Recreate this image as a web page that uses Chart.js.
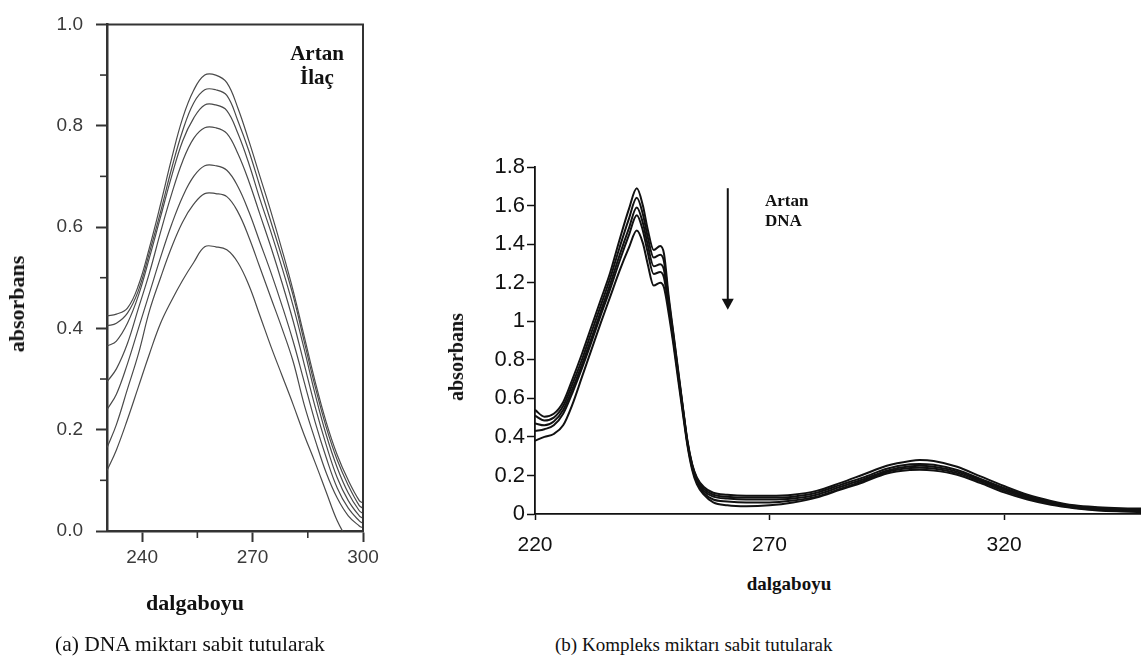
<!DOCTYPE html>
<html>
<head>
<meta charset="utf-8">
<script src="https://cdn.jsdelivr.net/npm/chart.js@4.4.1/dist/chart.umd.min.js"></script>
<style>
  body { margin: 0; background: #fff; width: 1141px; height: 668px; position: relative; overflow: hidden; }
  .box { position: absolute; }
  .lbl { position: absolute; font-family: "Liberation Serif", "Times New Roman", serif; color: #111; white-space: nowrap; line-height: 1; }
  .bold { font-weight: bold; }
  .rot { transform: translate(-50%, -50%) rotate(-90deg); }
  .ctr { transform: translate(-50%, -50%); }
</style>
</head>
<body>
<div class="box" style="left:0;top:0;width:400px;height:613px"><canvas id="chartA"></canvas></div>
<div class="box" style="left:420px;top:140px;width:721px;height:420px"><canvas id="chartB"></canvas></div>

<div class="lbl bold rot" style="left:17px;top:304px;font-size:22px">absorbans</div>
<div class="lbl bold ctr" style="left:195px;top:603px;font-size:22px">dalgaboyu</div>
<div class="lbl bold" style="left:286px;top:41px;width:62px;text-align:center;font-size:21px;line-height:24px">Artan<br>İlaç</div>
<div class="lbl" style="left:55px;top:634px;font-size:21.5px">(a) DNA miktarı sabit tutularak</div>

<div class="lbl bold rot" style="left:456px;top:357px;font-size:20px">absorbans</div>
<div class="lbl bold ctr" style="left:789px;top:583px;font-size:19px">dalgaboyu</div>
<div class="lbl bold" style="left:765px;top:191px;font-size:17px;line-height:20px">Artan<br>DNA</div>
<div class="lbl" style="left:555px;top:635px;font-size:19px">(b) Kompleks miktarı sabit tutularak</div>

<script>
// (a) DNA sabit, artan ilac
const wavelengthA = [230.5, 233, 236, 239, 242, 245, 248, 251, 254, 257, 260, 263, 266, 269, 272, 275, 278, 281, 284, 287, 290, 293, 296, 299, 300];
const absA1 = [.425, .428, .44, .485, .56, .645, .735, .815, .87, .90, .90, .885, .835, .77, .70, .63, .555, .475, .385, .295, .215, .15, .10, .06, .055];
const absA2 = [.405, .41, .43, .475, .55, .63, .715, .79, .845, .871, .871, .86, .81, .75, .68, .61, .54, .465, .375, .285, .205, .14, .09, .05, .045];
const absA3 = [.365, .375, .41, .465, .54, .62, .70, .77, .815, .841, .841, .83, .785, .725, .655, .59, .52, .445, .36, .27, .19, .125, .075, .04, .035];
const absA4 = [.295, .32, .37, .44, .51, .59, .665, .73, .775, .796, .796, .785, .745, .69, .625, .56, .49, .415, .33, .245, .17, .105, .06, .03, .025];
const absA5 = [.24, .27, .33, .40, .47, .54, .605, .66, .70, .721, .721, .712, .68, .63, .57, .51, .445, .375, .295, .215, .145, .085, .045, .02, .015];
const absA6 = [.165, .21, .28, .35, .435, .50, .56, .61, .645, .666, .666, .66, .63, .58, .52, .46, .40, .335, .25, .18, .115, .065, .03, .01, .006];
const absA7 = [.12, .16, .22, .285, .35, .41, .455, .495, .53, .561, .561, .555, .53, .485, .425, .364, .307, .25, .19, .135, .077, .02, -.02, -.06, -.07];
const xTicksA = [240, 270, 300];
const xMinorA = [255, 285];
const yTicksA = [0, 0.2, 0.4, 0.6, 0.8, 1.0];
const yMinorA = [0.1, 0.3, 0.5, 0.7, 0.9];

// (b) kompleks sabit, artan DNA
const wavelengthB = [220, 222, 224, 226, 228, 230, 232, 234, 236, 238, 240, 241.7, 243, 244, 245.3, 246.7, 247.5, 248.5, 249.5, 250.5, 251.5, 252.5, 253.5, 254.5, 256, 258, 261, 265, 270, 275, 280, 285, 290, 295, 300, 302, 305, 310, 315, 320, 325, 330, 335, 340, 345, 350];
const absB1 = [.54, .505, .52, .58, .70, .83, .97, 1.11, 1.25, 1.42, 1.58, 1.69, 1.60, 1.48, 1.37, 1.39, 1.35, 1.13, .94, .75, .56, .38, .26, .19, .14, .11, .10, .095, .095, .10, .12, .16, .205, .25, .275, .28, .275, .245, .195, .145, .10, .068, .045, .035, .03, .028];
const absB2 = [.51, .485, .50, .56, .675, .80, .94, 1.08, 1.22, 1.38, 1.53, 1.64, 1.555, 1.44, 1.33, 1.345, 1.31, 1.11, .93, .74, .555, .375, .255, .185, .13, .10, .09, .085, .085, .09, .11, .15, .19, .235, .258, .26, .255, .228, .182, .135, .093, .062, .04, .03, .025, .022];
const absB3 = [.47, .46, .48, .54, .65, .775, .91, 1.05, 1.19, 1.34, 1.48, 1.59, 1.51, 1.40, 1.285, 1.295, 1.265, 1.09, .915, .73, .55, .37, .25, .175, .12, .09, .08, .075, .075, .08, .10, .14, .18, .225, .248, .25, .245, .22, .175, .128, .088, .058, .037, .027, .022, .019];
const absB4 = [.43, .44, .46, .52, .63, .755, .89, 1.03, 1.165, 1.31, 1.445, 1.55, 1.47, 1.36, 1.245, 1.255, 1.225, 1.07, .90, .72, .54, .365, .24, .165, .11, .075, .065, .06, .06, .07, .09, .13, .172, .218, .238, .24, .236, .212, .168, .12, .082, .053, .033, .022, .018, .015];
const absB5 = [.38, .40, .415, .46, .57, .71, .85, .99, 1.125, 1.26, 1.38, 1.47, 1.405, 1.30, 1.185, 1.20, 1.175, 1.04, .88, .70, .525, .355, .23, .155, .10, .06, .045, .04, .045, .06, .085, .125, .165, .21, .228, .23, .226, .204, .16, .112, .075, .048, .03, .018, .013, .01];
const xTicksB = [220, 270, 320];
const yTicksB = [0, 0.2, 0.4, 0.6, 0.8, 1, 1.2, 1.4, 1.6, 1.8];
// arrow: wavelength, from / to absorbance
const arrowB = { x: 261.1, from: 1.69, to: 1.06 };

const toPoints = (xs, ys) => xs.map((x, i) => ({ x: x, y: ys[i] }));

const boxAndMinor = {
  id: 'boxAndMinor',
  afterDraw(chart) {
    const { ctx, chartArea: a, scales: { x, y } } = chart;
    ctx.save();
    ctx.strokeStyle = '#333';
    ctx.lineWidth = 2;
    ctx.beginPath();
    ctx.moveTo(a.left, a.top);
    ctx.lineTo(a.right, a.top);
    ctx.lineTo(a.right, a.bottom);
    ctx.stroke();
    ctx.lineWidth = 1.6;
    yMinorA.forEach(v => {
      const py = y.getPixelForValue(v);
      ctx.beginPath(); ctx.moveTo(a.left - 7, py); ctx.lineTo(a.left, py); ctx.stroke();
    });
    xMinorA.forEach(v => {
      const px = x.getPixelForValue(v);
      ctx.beginPath(); ctx.moveTo(px, a.bottom); ctx.lineTo(px, a.bottom + 7); ctx.stroke();
    });
    ctx.restore();
  }
};

const arrowPlugin = {
  id: 'arrowPlugin',
  afterDraw(chart) {
    const { ctx, scales: { x, y } } = chart;
    const px = x.getPixelForValue(arrowB.x);
    const y1 = y.getPixelForValue(arrowB.from);
    const y2 = y.getPixelForValue(arrowB.to);
    ctx.save();
    ctx.strokeStyle = '#111';
    ctx.fillStyle = '#111';
    ctx.lineWidth = 2;
    ctx.beginPath(); ctx.moveTo(px, y1); ctx.lineTo(px, y2 - 8); ctx.stroke();
    ctx.beginPath();
    ctx.moveTo(px - 6, y2 - 11); ctx.lineTo(px + 6, y2 - 11); ctx.lineTo(px, y2); ctx.closePath();
    ctx.fill();
    ctx.restore();
  }
};

new Chart(document.getElementById('chartA'), {
  type: 'line',
  data: {
    datasets: [absA1, absA2, absA3, absA4, absA5, absA6, absA7].map(s => ({
      data: toPoints(wavelengthA, s),
      borderColor: '#4a4a4a',
      borderWidth: 1.2,
      pointRadius: 0,
      tension: 0.4,
      fill: false
    }))
  },
  options: {
    responsive: true,
    maintainAspectRatio: false,
    animation: false,
    layout: { padding: { left: 0, top: 14, right: 37, bottom: 0 } },
    plugins: { legend: { display: false }, tooltip: { enabled: false } },
    scales: {
      x: {
        type: 'linear', min: 230.45, max: 300,
        afterBuildTicks: s => { s.ticks = xTicksA.map(v => ({ value: v })); },
        afterFit: s => { s.height = 82; },
        grid: { drawOnChartArea: false, tickLength: 11, tickColor: '#333', tickWidth: 2 },
        border: { color: '#333', width: 2.5 },
        ticks: { color: '#3a3a3a', padding: 4, font: { family: 'Liberation Sans', size: 19 } }
      },
      y: {
        type: 'linear', min: 0, max: 1,
        afterBuildTicks: s => { s.ticks = yTicksA.map(v => ({ value: v })); },
        afterFit: s => { s.width = 107; },
        grid: { drawOnChartArea: false, tickLength: 11, tickColor: '#333', tickWidth: 2 },
        border: { color: '#333', width: 2.5 },
        ticks: { color: '#3a3a3a', padding: 13, font: { family: 'Liberation Sans', size: 19 }, callback: v => v.toFixed(1) }
      }
    }
  },
  plugins: [boxAndMinor]
});

new Chart(document.getElementById('chartB'), {
  type: 'line',
  data: {
    datasets: [absB1, absB2, absB3, absB4, absB5].map(s => ({
      data: toPoints(wavelengthB, s),
      borderColor: '#111',
      borderWidth: 2,
      pointRadius: 0,
      cubicInterpolationMode: 'monotone',
      fill: false
    }))
  },
  options: {
    responsive: true,
    maintainAspectRatio: false,
    animation: false,
    layout: { padding: { left: 0, top: 27, right: 0, bottom: 0 } },
    plugins: { legend: { display: false }, tooltip: { enabled: false } },
    scales: {
      x: {
        type: 'linear', min: 220, max: 349.2,
        afterBuildTicks: s => { s.ticks = xTicksB.map(v => ({ value: v })); },
        afterFit: s => { s.height = 46; },
        grid: { drawOnChartArea: false, tickLength: 6, tickColor: '#111', tickWidth: 1.5 },
        border: { color: '#111', width: 1.8 },
        ticks: { color: '#111', padding: 13, font: { family: 'Liberation Sans', size: 21 } }
      },
      y: {
        type: 'linear', min: 0, max: 1.8,
        afterBuildTicks: s => { s.ticks = yTicksB.map(v => ({ value: v })); },
        afterFit: s => { s.width = 115; },
        grid: { drawOnChartArea: false, tickLength: 8, tickColor: '#111', tickWidth: 1.5 },
        border: { color: '#111', width: 1.8 },
        ticks: { color: '#111', padding: 2, font: { family: 'Liberation Sans', size: 22 }, callback: v => String(+v.toFixed(1)) }
      }
    }
  },
  plugins: [arrowPlugin]
});
</script>
</body>
</html>
